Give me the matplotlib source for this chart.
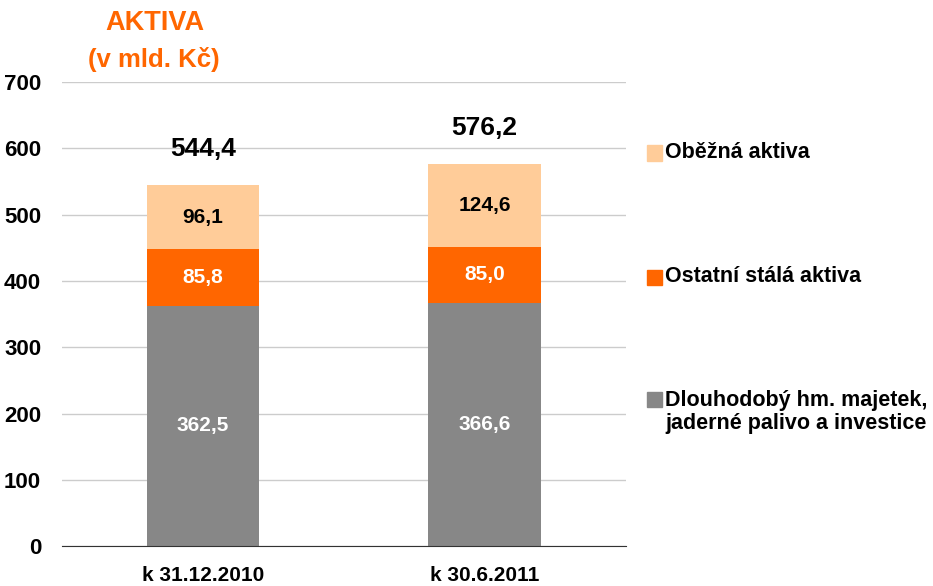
import numpy as np
import matplotlib
matplotlib.use('Agg')
import matplotlib.pyplot as plt

plt.rcParams['font.family'] = ['Liberation Sans', 'DejaVu Sans']
plt.rcParams['font.weight'] = 'bold'

# data
categories = ['k 31.12.2010', 'k 30.6.2011']
dlouhodoby = [362.5, 366.6]
ostatni = [85.8, 85.0]
obezna = [96.1, 124.6]
totals = ['544,4', '576,2']
series_names = ['Dlouhodobý hm. majetek,\njaderné palivo a investice',
                'Ostatní stálá aktiva', 'Oběžná aktiva']
colors = ['#878787', '#FF6600', '#FFCC99']
label_colors = ['white', 'white', 'black']

fig = plt.figure(figsize=(9.33, 5.86), dpi=100)
ax = fig.add_axes([0.0665, 0.068, 0.604, 0.792])

x = np.arange(len(categories))
w = 0.4
bottom = np.zeros(len(categories))
for vals, col, lc in zip([dlouhodoby, ostatni, obezna], colors, label_colors):
    vals = np.array(vals)
    ax.bar(x, vals, w, bottom=bottom, color=col, zorder=3)
    for xi, b, v in zip(x, bottom, vals):
        ax.text(xi, b + v / 2, f'{v:.1f}'.replace('.', ','), ha='center', va='center',
                color=lc, fontsize=15, fontweight='bold', zorder=4)
    bottom = bottom + vals

# soucty nad sloupci
for xi, b, t in zip(x, bottom, totals):
    ax.text(xi, b + 55, t, ha='center', va='center', fontsize=19, fontweight='bold')

ax.set_xlim(-0.5, 1.5)
ax.set_ylim(0, 700)
ax.set_yticks(np.arange(0, 701, 100))
ax.yaxis.grid(True, color='#CCCCCC', linewidth=1, zorder=0)
ax.set_xticks(x)
ax.set_xticklabels(categories, fontsize=15, fontweight='bold')
ax.tick_params(axis='both', length=0)
ax.tick_params(axis='y', labelsize=16, pad=15)
ax.tick_params(axis='x', pad=14)
for s in ['top', 'right', 'left']:
    ax.spines[s].set_visible(False)
ax.spines['bottom'].set_color('#333333')
ax.spines['bottom'].set_zorder(5)

# nadpis
fig.text(155 / 933, 1 - 23 / 586, 'AKTIVA', color='#FF6600', fontsize=19.5,
         fontweight='bold', ha='center', va='center')
fig.text(154 / 933, 1 - 59 / 586, '(v mld. Kč)', color='#FF6600', fontsize=18.5,
         fontweight='bold', ha='center', va='center')

# legenda rucne
leg_y = [412, 277, 153]
for name, col, yy in zip(series_names, colors, leg_y):
    first = 1 - (yy - 13 if '\n' in name else yy) / 586
    fig.patches.append(plt.Rectangle((647 / 933, first - 7.5 / 586), 15 / 933, 15 / 586,
                                     transform=fig.transFigure, color=col))
    fig.text(665 / 933, 1 - yy / 586, name, fontsize=15.5, fontweight='bold',
             ha='left', va='center', linespacing=1.15)

fig.savefig('out.png', dpi=100)
